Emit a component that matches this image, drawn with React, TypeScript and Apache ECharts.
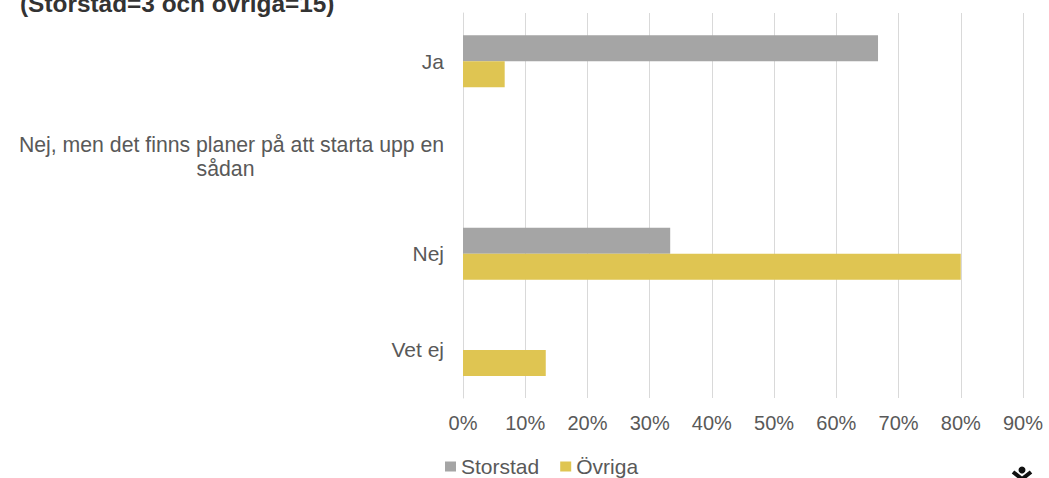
import React, { useEffect, useRef } from "react";
import * as echarts from "echarts";

const categories = ["Ja", "Nej, men det finns planer på att starta upp en\nsådan", "Nej", "Vet ej"];
const storstad = [66.7, 0, 33.3, 0];
const ovriga = [6.7, 0, 80, 13.3];
const titleText = "(Storstad=3 och övriga=15)";
const FONT = "'Liberation Sans', Arial, sans-serif";
const GREY = "#a5a5a5";
const GOLD = "#dfc552";
const TEXT = "#595959";

export default function App() {
  const ref = useRef<HTMLDivElement>(null);
  useEffect(() => {
    document.body.style.margin = "0";
    const chart = echarts.init(ref.current!, null, { renderer: "svg" });
    chart.setOption({
      animation: false,
      backgroundColor: "#ffffff",
      textStyle: { fontFamily: FONT },
      grid: { left: 463, top: 13, width: 560, height: 385, containLabel: false },
      legend: {
        left: 440,
        top: 451,
        itemWidth: 11,
        itemHeight: 10,
        itemGap: 21,
        icon: "rect",
        textStyle: { color: TEXT, fontSize: 21, fontFamily: FONT },
        data: ["Storstad", "Övriga"],
      },
      xAxis: {
        type: "value",
        min: 0,
        max: 90,
        interval: 10,
        axisLine: { show: false },
        axisTick: { show: false },
        axisLabel: { formatter: "{value}%", color: TEXT, fontSize: 20, margin: 15, fontFamily: FONT },
        splitLine: { show: true, lineStyle: { color: "#d9d9d9", width: 1 } },
      },
      yAxis: {
        type: "category",
        inverse: true,
        data: categories,
        axisLine: { show: true, lineStyle: { color: "#d9d9d9", width: 1 } },
        axisTick: { show: false },
        axisLabel: { color: TEXT, fontSize: 21, margin: 19, align: "right", lineHeight: 24, fontFamily: FONT,
          formatter: (v: string) => v.includes("\n") ? v.split("\n").map((s, i) => i === 0 ? `{a|${s}}` : `{b|${s}}`).join("\n") : v,
          rich: {
            a: { color: TEXT, fontSize: 21.25, fontFamily: FONT, lineHeight: 24, width: 425, align: "center" },
            b: { color: TEXT, fontSize: 21.25, fontFamily: FONT, lineHeight: 24, width: 413, padding: [0, 12, 0, 0], align: "center" },
          } },
      },
      series: [
        { name: "Storstad", type: "bar", data: storstad, itemStyle: { color: GREY }, barWidth: 26, barGap: 0 },
        { name: "Övriga", type: "bar", data: ovriga, itemStyle: { color: GOLD }, barWidth: 26, barGap: 0 },
      ],
      graphic: [
        { type: "text", left: 20, top: -9, style: { text: titleText, font: `bold 24.4px ${FONT}`, fill: "#333333" } },
        { type: "circle", shape: { cx: 1022, cy: 470, r: 3.5 }, style: { fill: "#111" } },
        { type: "polyline", shape: { points: [[1013, 472], [1022, 479], [1031, 472]] }, style: { stroke: "#111", lineWidth: 4, fill: "none" } },
      ],
    });
    return () => chart.dispose();
  }, []);
  return <div ref={ref} style={{ width: 1049, height: 478 }} />;
}
